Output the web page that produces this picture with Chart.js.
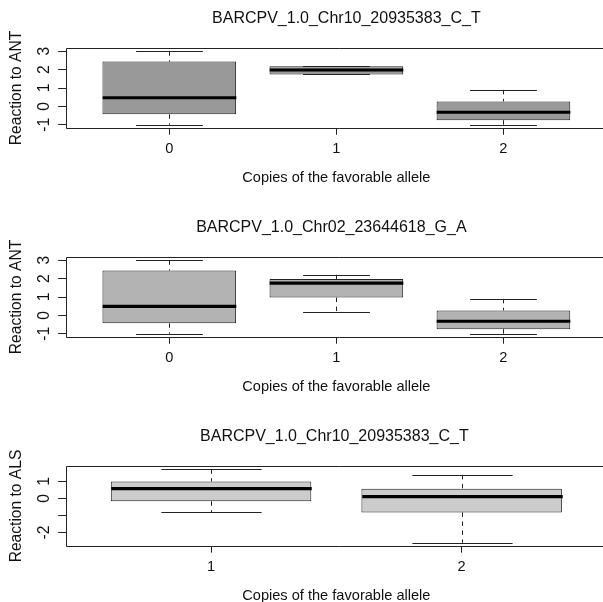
<!DOCTYPE html>
<html>
<head>
<meta charset="utf-8">
<script src="https://cdn.jsdelivr.net/npm/chart.js@4.4.1/dist/chart.umd.min.js"></script>
<style>
  html, body { margin: 0; padding: 0; background: #fff; overflow: hidden; width: 603px; height: 602px; }
  .panel { position: absolute; left: 0; width: 640px; height: 209px; }
</style>
</head>
<body>
<div class="panel" style="top:0px"><canvas id="chart1" width="640" height="209"></canvas></div>
<div class="panel" style="top:209px"><canvas id="chart2" width="640" height="209"></canvas></div>
<div class="panel" style="top:418px"><canvas id="chart3" width="640" height="209"></canvas></div>
<script>
// Panel 1 - ANT, Chr10 marker
const p1Title = 'BARCPV_1.0_Chr10_20935383_C_T';
const p1Groups = [0, 1, 2];
const p1Min = [-1.0, 1.74, -1.0];
const p1Q1 = [-0.43, 1.74, -0.75];
const p1Median = [0.47, 1.98, -0.32];
const p1Q3 = [2.44, 2.19, 0.27];
const p1Max = [3.0, 2.19, 0.9];

// Panel 2 - ANT, Chr02 marker
const p2Title = 'BARCPV_1.0_Chr02_23644618_G_A';
const p2Groups = [0, 1, 2];
const p2Min = [-1.0, 0.18, -1.0];
const p2Q1 = [-0.43, 0.97, -0.75];
const p2Median = [0.49, 1.76, -0.32];
const p2Q3 = [2.44, 1.98, 0.27];
const p2Max = [3.0, 2.21, 0.9];

// Panel 3 - ALS, Chr10 marker
const p3Title = 'BARCPV_1.0_Chr10_20935383_C_T';
const p3Groups = [1, 2];
const p3Min = [-0.82, -2.6];
const p3Q1 = [-0.16, -0.82];
const p3Median = [0.58, 0.11];
const p3Q3 = [1.0, 0.58];
const p3Max = [1.72, 1.39];

// y tick values and labels
const antTicks = [-1, 0, 1, 2, 3];
const antTickLabels = ['-1', '0', '1', '2', '3'];
const alsTicks = [-2, -1, 0, 1];
const alsTickLabels = ['-2', '', '0', '1'];

const xAxisLabel = 'Copies of the favorable allele';
const FONT = "'Liberation Sans', Arial, Helvetica, sans-serif";

// whiskers, caps and median line, drawn on top of the box bars
const boxWhiskers = {
    id: 'boxWhiskers',
    afterDatasetsDraw(chart, args, opts) {
        const { ctx, scales: { x, y } } = chart;
        const meta = chart.getDatasetMeta(0);
        ctx.save();
        ctx.strokeStyle = '#222';
        ctx.lineWidth = 1;
        opts.groups.forEach((g, i) => {
            const half = meta.data[i].width / 2;
            const cx = Math.round(x.getPixelForValue(g)) + 0.5;
            const yMin = y.getPixelForValue(opts.min[i]);
            const yMax = y.getPixelForValue(opts.max[i]);
            const yQ1 = y.getPixelForValue(opts.q1[i]);
            const yQ3 = y.getPixelForValue(opts.q3[i]);

            // dashed whiskers
            ctx.setLineDash([4.5, 4.5]);
            ctx.beginPath();
            if (opts.max[i] > opts.q3[i]) { ctx.moveTo(cx, yMax); ctx.lineTo(cx, yQ3); }
            if (opts.min[i] < opts.q1[i]) { ctx.moveTo(cx, yQ1); ctx.lineTo(cx, yMin); }
            ctx.stroke();

            // staples, half the box width
            ctx.setLineDash([]);
            ctx.beginPath();
            ctx.moveTo(cx - half / 2, Math.round(yMax) + 0.5);
            ctx.lineTo(cx + half / 2, Math.round(yMax) + 0.5);
            ctx.moveTo(cx - half / 2, Math.round(yMin) + 0.5);
            ctx.lineTo(cx + half / 2, Math.round(yMin) + 0.5);
            ctx.stroke();

            // median
            ctx.strokeStyle = '#000';
            ctx.lineWidth = 3.2;
            ctx.beginPath();
            const yMed = y.getPixelForValue(opts.median[i]);
            ctx.moveTo(cx - half, yMed);
            ctx.lineTo(cx + half, yMed);
            ctx.stroke();
            ctx.strokeStyle = '#222';
            ctx.lineWidth = 1;
        });
        ctx.restore();
    }
};

// R style box round the plot region; the right side lies past the page edge
const plotFrame = {
    id: 'plotFrame',
    afterDraw(chart) {
        const { ctx, chartArea: a } = chart;
        const l = Math.round(a.left) + 0.5;
        const t = Math.round(a.top) + 0.5;
        const b = Math.round(a.bottom) + 0.5;
        ctx.save();
        ctx.strokeStyle = '#222';
        ctx.lineWidth = 1;
        ctx.beginPath();
        ctx.moveTo(a.right + 5, t);
        ctx.lineTo(l, t);
        ctx.lineTo(l, b);
        ctx.lineTo(a.right + 5, b);
        ctx.stroke();
        ctx.restore();
    }
};

// main title, centred over the plot region
const mainTitle = {
    id: 'mainTitle',
    afterDraw(chart, args, opts) {
        const { ctx, chartArea: a } = chart;
        ctx.save();
        ctx.fillStyle = '#111';
        ctx.font = '16px ' + FONT;
        ctx.textAlign = 'center';
        ctx.textBaseline = 'middle';
        ctx.fillText(opts.text, (a.left + a.right) / 2 + opts.shift, a.top - 29.5);
        ctx.restore();
    }
};

function buildBoxChart(canvasId, p) {
    const n = p.groups.length;
    const lo = Math.min(...p.min);
    const hi = Math.max(...p.max);
    const yPad = (hi - lo) * 0.04;
    const xPad = 0.5 + 0.04 * n;

    return new Chart(document.getElementById(canvasId), {
        type: 'bar',
        data: {
            datasets: [{
                data: p.groups.map((g, i) => ({ x: g, y: [p.q1[i], p.q3[i]] })),
                backgroundColor: p.fill,
                borderColor: '#222',
                borderWidth: 1,
                borderSkipped: false,
                categoryPercentage: 1,
                barPercentage: 0.8
            }]
        },
        options: {
            responsive: false,
            animation: false,
            events: [],
            layout: { padding: { top: 48.3, right: 33, bottom: 0, left: 0 } },
            plugins: {
                legend: { display: false },
                title: { display: false },
                tooltip: { enabled: false },
                boxWhiskers: { groups: p.groups, min: p.min, q1: p.q1, median: p.median, q3: p.q3, max: p.max },
                mainTitle: { text: p.title, shift: p.titleShift }
            },
            scales: {
                x: {
                    type: 'linear',
                    min: p.groups[0] - xPad,
                    max: p.groups[n - 1] + xPad,
                    offset: false,
                    afterBuildTicks: s => { s.ticks = p.groups.map(v => ({ value: v })); },
                    afterFit: s => { s.height = 81.3; },
                    grid: { drawOnChartArea: false, drawTicks: true, tickLength: 7, tickColor: '#222', offset: false },
                    border: { display: false },
                    ticks: {
                        autoSkip: false, maxRotation: 0, padding: 5.8, color: '#111',
                        font: { family: FONT, size: 14.6 },
                        callback: v => String(v)
                    },
                    title: {
                        display: true, text: xAxisLabel, color: '#111',
                        font: { family: FONT, size: 14.6 },
                        padding: { top: 0, bottom: 22.7 }
                    }
                },
                y: {
                    min: lo - yPad,
                    max: hi + yPad,
                    afterBuildTicks: s => { s.ticks = p.yTicks.map(v => ({ value: v })); },
                    afterFit: s => { s.width = 65.7; },
                    grid: { drawOnChartArea: false, drawTicks: true, tickLength: 7.5, tickColor: '#222' },
                    border: { display: false },
                    ticks: {
                        autoSkip: false, minRotation: 90, maxRotation: 90, crossAlign: 'center',
                        padding: 6.2, color: '#111',
                        font: { family: FONT, size: 15.6 },
                        callback: (v, i) => p.yTickLabels[i]
                    },
                    title: {
                        display: true, text: p.yLabel, color: '#111',
                        font: { family: FONT, size: 15.6 },
                        padding: { top: 7.6, bottom: 0 }
                    }
                }
            }
        },
        plugins: [boxWhiskers, mainTitle, plotFrame]
    });
}

buildBoxChart('chart1', {
    title: p1Title, titleShift: 10, yLabel: 'Reaction to ANT', fill: '#999999',
    groups: p1Groups, min: p1Min, q1: p1Q1, median: p1Median, q3: p1Q3, max: p1Max,
    yTicks: antTicks, yTickLabels: antTickLabels
});
buildBoxChart('chart2', {
    title: p2Title, titleShift: -5, yLabel: 'Reaction to ANT', fill: '#b3b3b3',
    groups: p2Groups, min: p2Min, q1: p2Q1, median: p2Median, q3: p2Q3, max: p2Max,
    yTicks: antTicks, yTickLabels: antTickLabels
});
buildBoxChart('chart3', {
    title: p3Title, titleShift: -2, yLabel: 'Reaction to ALS', fill: '#cccccc',
    groups: p3Groups, min: p3Min, q1: p3Q1, median: p3Median, q3: p3Q3, max: p3Max,
    yTicks: alsTicks, yTickLabels: alsTickLabels
});
</script>
</body>
</html>
